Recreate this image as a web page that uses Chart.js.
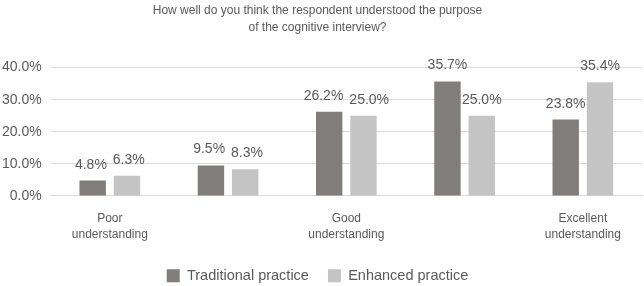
<!DOCTYPE html>
<html>
<head>
<meta charset="utf-8">
<script src="https://cdn.jsdelivr.net/npm/chart.js@4"></script>
<style>
  html, body { margin: 0; padding: 0; background: #fff; }
  #wrap { width: 644px; height: 286px; }
</style>
</head>
<body>
<div id="wrap"><canvas id="grafico"></canvas></div>
<script>
// Datos
const categorias = [['Poor', 'understanding'], '', ['Good', 'understanding'], '', ['Excellent', 'understanding']];
const tradicional = [4.8, 9.5, 26.2, 35.7, 23.8];
const mejorada = [6.3, 8.3, 25.0, 25.0, 35.4];
const nombresSeries = ['Traditional practice', 'Enhanced practice'];
const titulo = ['How well do you think the respondent understood the purpose', 'of the cognitive interview?'];

const colorTexto = '#595959';
const fuente = 'Liberation Sans, Arial, sans-serif';

// Etiquetas encima de las barras (se separan si se tocan)
const etiquetasBarras = {
  id: 'etiquetasBarras',
  afterDatasetsDraw(chart) {
    const ctx = chart.ctx;
    ctx.save();
    ctx.fillStyle = colorTexto;
    ctx.font = '14px ' + fuente;
    ctx.textAlign = 'center';
    ctx.textBaseline = 'alphabetic';
    const metaA = chart.getDatasetMeta(0).data;
    const metaB = chart.getDatasetMeta(1).data;
    chart.data.labels.forEach((_, j) => {
      const tA = chart.data.datasets[0].data[j].toFixed(1) + '%';
      const tB = chart.data.datasets[1].data[j].toFixed(1) + '%';
      const a = metaA[j], b = metaB[j];
      let xA = a.x, xB = b.x;
      const wA = ctx.measureText(tA).width, wB = ctx.measureText(tB).width;
      const solape = (xA + wA / 2 + 6) - (xB - wB / 2);
      if (solape > 0 && Math.abs(a.y - b.y) < 16) {
        xA -= solape / 2;
        xB += solape / 2;
      }
      ctx.fillText(tA, xA, a.y - 12);
      ctx.fillText(tB, xB, b.y - 12);
    });
    ctx.restore();
  }
};

new Chart(document.getElementById('grafico'), {
  type: 'bar',
  data: {
    labels: categorias,
    datasets: [
      { label: nombresSeries[0], data: tradicional, backgroundColor: '#807d7b' },
      { label: nombresSeries[1], data: mejorada, backgroundColor: '#c4c4c4' }
    ]
  },
  options: {
    responsive: true,
    maintainAspectRatio: false,
    animation: false,
    datasets: { bar: { categoryPercentage: 0.58, barPercentage: 0.77 } },
    layout: { padding: { left: -7, right: 2, top: 0, bottom: -7 } },
    plugins: {
      title: {
        display: true,
        text: titulo,
        color: colorTexto,
        font: { family: fuente, size: 12, weight: 'normal', lineHeight: 1.4 },
        padding: { top: 2, bottom: 32 }
      },
      legend: {
        position: 'bottom',
        labels: {
          color: colorTexto,
          font: { family: fuente, size: 14.5 },
          boxWidth: 13,
          boxHeight: 13,
          padding: 19
        }
      },
      tooltip: { enabled: false }
    },
    scales: {
      x: {
        grid: { display: false },
        border: { color: '#d9d9d9' },
        ticks: {
          color: colorTexto,
          font: { family: fuente, size: 12, lineHeight: 1.4 },
          padding: 6,
          maxRotation: 0,
          autoSkip: false
        }
      },
      y: {
        min: 0,
        max: 40,
        grid: { color: '#d9d9d9', drawTicks: false },
        border: { display: false },
        ticks: {
          stepSize: 10,
          padding: 9,
          color: colorTexto,
          font: { family: fuente, size: 14 },
          callback: v => v.toFixed(1) + '%'
        }
      }
    }
  },
  plugins: [etiquetasBarras]
});
</script>
</body>
</html>
